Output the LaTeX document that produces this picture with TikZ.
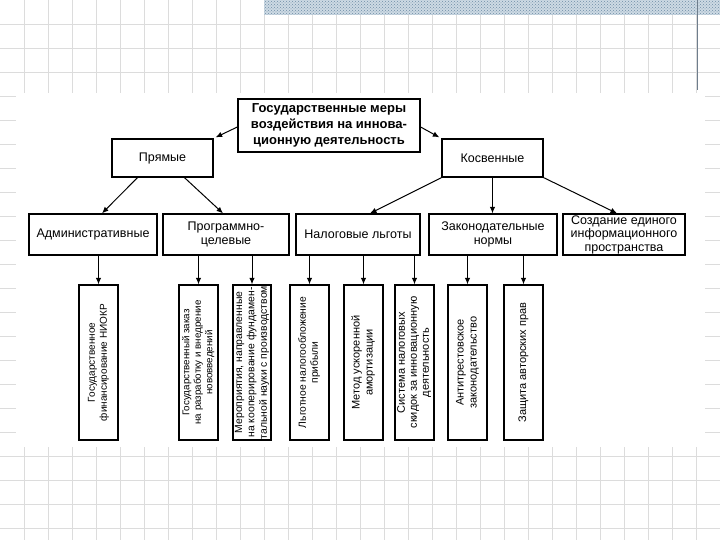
\documentclass[tikz,border=0pt]{standalone}
\usepackage{fontspec}
\setmainfont{Liberation Sans}
\usepackage{graphicx}
\usetikzlibrary{arrows.meta,patterns}
\definecolor{gridc}{RGB}{220,220,220}
\definecolor{bandbg}{RGB}{205,218,228}
\definecolor{bandc}{RGB}{110,140,165}
\definecolor{vlinec}{RGB}{110,125,140}
\newcommand{\vtext}[3]{\rotatebox{90}{\fontsize{#1}{#2}\selectfont\begin{tabular}{@{}c@{}}#3\end{tabular}}}
\tikzset{
  box/.style={draw, line width=1.3pt, fill=white, inner sep=1pt, align=center},
  lvtwo/.style={box, minimum width=101, minimum height=38, font={\fontsize{12.5}{14}\selectfont}},
  lvthree/.style={box, minimum height=41, font={\fontsize{12.5}{14}\selectfont}},
  vbox/.style={box, minimum width=39, minimum height=155, inner sep=0pt},
  arr/.style={line width=1pt, -{Latex[length=6.5pt,width=5.5pt]}},
  gridline/.style={draw=gridc, line width=0.9pt}
}
\begin{document}
\begin{tikzpicture}[x=1pt,y=-1pt]
\useasboundingbox (0,0) rectangle (720,540);
\fill[white] (0,0) rectangle (720,540);
\foreach \k in {1,...,29} \draw[gridline] (24*\k,0) -- (24*\k,540);
\foreach \k in {1,...,22} \draw[gridline] (0,24*\k) -- (720,24*\k);
\fill[bandbg] (264,0) rectangle (720,15);
\fill[pattern=crosshatch dots, pattern color=bandc] (264,0) rectangle (720,15);
\draw[vlinec, line width=1pt] (697,0) -- (697,90);
\fill[white] (16,93) rectangle (705,447);

% level 1
\node[box, minimum width=182, minimum height=53, font={\fontsize{13}{16}\selectfont\bfseries}] (top) at (329,125.5)
  {Государственные меры\\воздействия на иннова-\\ционную деятельность};
% level 2
\node[lvtwo] (pr) at (162.5,158) {Прямые};
\node[lvtwo] (kos) at (492.5,158) {Косвенные};
% level 3
\node[lvthree, minimum width=128] (adm) at (93,234.5) {Административные};
\node[lvthree, minimum width=126] (prog) at (226,234.5) {Программно-\\целевые};
\node[lvthree, minimum width=124] (nal) at (358,234.5) {Налоговые льготы};
\node[lvthree, minimum width=128] (zak) at (493,234.5) {Законодательные\\нормы};
\node[lvthree, minimum width=122, font={\fontsize{12.5}{13.5}\selectfont}] (soz) at (624,234.5) {Создание единого\\информационного\\пространства};
% level 4
\node[vbox] (b1) at (98.5,362.5) {\vtext{10}{12}{Государственное\\финансирование НИОКР}};
\node[vbox] (b2) at (198.5,362.5) {\vtext{9.8}{11.5}{Государственный заказ\\на разработку и внедрение\\нововведений}};
\node[vbox, minimum width=38] (b3) at (252,362.5) {\vtext{10.4}{12.4}{Мероприятия, направленные\\на кооперирование фундамен-\\тальной науки с производством}};
\node[vbox] (b4) at (309.5,362.5) {\vtext{10.3}{12}{Льготное налогообложение\\прибыли}};
\node[vbox] (b5) at (363.5,362.5) {\vtext{11}{13}{Метод ускоренной\\амортизации}};
\node[vbox] (b6) at (414.5,362.5) {\vtext{11}{12}{Система налоговых\\скидок за инновационную\\деятельность}};
\node[vbox] (b7) at (467.5,362.5) {\vtext{11}{13}{Антитрестовское\\законодательство}};
\node[vbox] (b8) at (523.5,362.5) {\vtext{11}{13}{Защита авторских прав}};

% connectors
\draw[arr] ([yshift=-1.5]top.west) -- ([xshift=2,yshift=1]pr.north east);
\draw[arr] ([yshift=-1.5]top.east) -- ([xshift=-2,yshift=1]kos.north west);
\draw[arr] ([xshift=-25]pr.south) -- ([xshift=9]adm.north);
\draw[arr] ([xshift=22]pr.south) -- ([xshift=-3]prog.north);
\draw[arr] (kos.south west) -- ([xshift=12]nal.north);
\draw[arr] (kos.south) -- (kos.south |- zak.north);
\draw[arr] (kos.south east) -- ([xshift=-7]soz.north);
\draw[arr] (b1.north |- adm.south) -- (b1.north);
\draw[arr] (b2.north |- prog.south) -- (b2.north);
\draw[arr] (b3.north |- prog.south) -- (b3.north);
\draw[arr] (b4.north |- nal.south) -- (b4.north);
\draw[arr] (b5.north |- nal.south) -- (b5.north);
\draw[arr] (b6.north |- nal.south) -- (b6.north);
\draw[arr] (b7.north |- zak.south) -- (b7.north);
\draw[arr] (b8.north |- zak.south) -- (b8.north);
\end{tikzpicture}
\end{document}
